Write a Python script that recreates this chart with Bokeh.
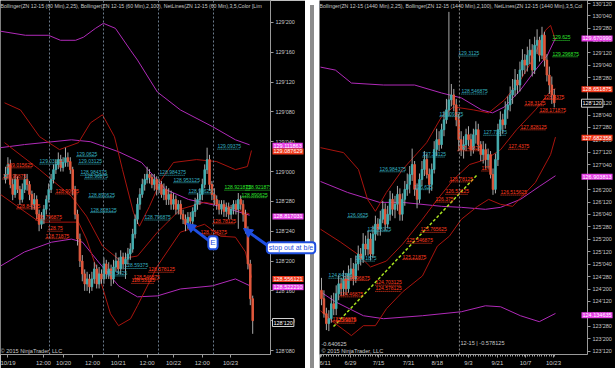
from bokeh.plotting import figure
from bokeh.models import Range1d, FixedTicker, Label, Arrow, NormalHead, Span, Div
from bokeh.layouts import row
from bokeh.embed import file_html
from bokeh.resources import INLINE
from bokeh.core.properties import value

# ---------------- LEFT PANEL (ZN 12-15, 60 min bars) ----------------
L_CLOSE = [128.988,129.029,128.946,128.904,128.967,128.925,128.883,128.925,128.967,
128.946,128.904,128.863,128.883,128.821,128.779,128.800,128.842,128.883,128.925,
128.967,129.008,129.029,129.050,129.017,129.038,129.058,129.042,129.008,
128.925,128.821,128.717,128.625,128.571,128.529,128.550,128.517,
128.550,128.592,128.529,128.571,128.550,128.613,128.571,128.592,128.550,128.600,128.625,128.592,128.642,128.613,128.633,128.654,128.675,
128.738,128.800,128.863,128.904,128.946,128.967,128.988,128.975,
128.946,128.967,128.925,128.946,128.904,128.925,128.883,128.904,128.863,128.883,
128.842,128.863,128.821,128.800,128.779,128.808,128.792,128.833,128.863,128.883,
128.904,128.946,129.008,129.050,128.946,128.904,
128.883,128.863,128.842,128.863,128.833,128.850,128.821,128.842,128.863,128.842,128.883,128.863,
128.821,128.758,128.613,128.467,128.375]
L_OPEN = [128.967,128.988,129.029,128.946,128.904,128.967,128.925,128.883,128.925,
128.967,128.946,128.904,128.863,128.883,128.821,128.779,128.800,128.842,128.883,
128.925,128.967,129.008,129.029,129.050,129.017,129.038,129.058,129.042,
129.008,128.925,128.821,128.717,128.625,128.571,128.529,128.550,
128.517,128.550,128.592,128.529,128.571,128.550,128.613,128.571,128.592,128.550,128.600,128.625,128.592,128.642,128.613,128.633,128.654,
128.675,128.738,128.800,128.863,128.904,128.946,128.967,128.988,
128.975,128.946,128.967,128.925,128.946,128.904,128.925,128.883,128.904,128.863,
128.883,128.842,128.863,128.821,128.800,128.779,128.808,128.792,128.833,128.863,
128.883,128.904,128.946,129.008,129.050,128.946,
128.904,128.883,128.863,128.842,128.863,128.833,128.850,128.821,128.842,128.863,128.842,128.883,
128.863,128.821,128.758,128.613,128.467]
L_HIGH = [129.02,129.06,129.05,128.97,128.99,128.98,128.94,128.95,128.99,
128.99,128.96,128.92,128.91,128.90,128.84,128.83,128.86,128.90,128.95,
128.99,129.03,129.05,129.08,129.07,129.06,129.10,129.08,129.06,
129.02,128.94,128.84,128.74,128.65,128.59,128.58,128.57,
128.58,128.62,128.61,128.60,128.59,128.64,128.63,128.62,128.61,128.63,128.66,128.64,128.67,128.66,128.66,128.68,128.70,
128.76,128.82,128.89,128.93,128.97,128.99,129.02,129.01,
128.99,128.99,128.98,128.97,128.96,128.95,128.94,128.93,128.92,128.91,
128.90,128.88,128.88,128.84,128.82,128.83,128.83,128.85,128.89,128.91,
128.93,128.97,129.03,129.10,129.07,128.96,
128.93,128.90,128.88,128.88,128.88,128.87,128.87,128.86,128.88,128.88,128.91,128.90,
128.88,128.84,128.77,128.63,128.48]
L_LOW = [128.95,128.97,128.93,128.88,128.89,128.91,128.86,128.87,128.91,
128.92,128.88,128.84,128.84,128.80,128.75,128.76,128.78,128.82,128.87,
128.91,128.95,128.99,129.01,129.00,129.00,129.02,129.02,128.99,
128.90,128.80,128.69,128.60,128.54,128.50,128.50,128.49,
128.50,128.53,128.51,128.51,128.53,128.53,128.55,128.55,128.52,128.53,128.58,128.57,128.57,128.59,128.55,128.61,128.63,
128.66,128.72,128.78,128.84,128.89,128.92,128.95,128.95,
128.93,128.92,128.90,128.91,128.89,128.88,128.86,128.86,128.84,128.84,
128.82,128.82,128.80,128.78,128.75,128.76,128.77,128.77,128.81,128.84,
128.86,128.88,128.93,128.99,128.92,128.88,
128.86,128.84,128.82,128.82,128.81,128.81,128.80,128.80,128.82,128.82,128.76,128.84,
128.79,128.74,128.59,128.44,128.32]

L_RED_UP_X = [-0.4, 6.25, 14.2, 22.5, 30.4, 35.4, 40.4, 45.4, 48.75, 53.3, 55.8, 60, 65, 70, 79.6, 87.9, 95.8, 100.8, 102.5]
L_RED_UP = [129.288,129.258,129.146,129.092,129.121,129.204,129.238,129.146,129.008,128.829,128.771,128.854,128.967,129.038,129.050,129.042,129.008,129.021,129.088]
L_RED_MID_X = [-0.4, 14.2, 27.5, 33.75, 40.4, 47.1, 55, 63.3, 72.9, 82.9, 92.5, 101.7]
L_RED_MID = [129.121,129.008,128.896,128.813,128.688,128.633,128.646,128.746,128.842,128.871,128.854,128.822]
L_RED_LO_X = [-2.1, 14.2, 30.4, 33.75, 38.75, 43.75, 47.1, 52.1, 55, 63.3, 72.9, 82.9, 89.6, 95.8, 100, 102.5]
L_RED_LO = [128.904,128.788,128.788,128.717,128.571,128.404,128.354,128.383,128.438,128.604,128.746,128.779,128.729,128.725,128.663,128.556]
L_MAG_UP_X = [-2.1, 8.3, 17.9, 22.9, 29.2, 32.5, 37.5, 40.8, 45.8, 52.1, 55, 63.3, 72.9, 86.3, 95.8, 101.7]
L_MAG_UP = [129.588,129.571,129.571,129.550,129.550,129.563,129.600,129.621,129.600,129.508,129.467,129.333,129.258,129.188,129.133,129.112]
L_MAG_MID_X = [-2.1, 7.9, 27.5, 35.4, 47.1, 56.7, 66.7, 76.25, 89.6, 101.7]
L_MAG_MID = [129.100,129.113,129.133,129.125,129.083,129.038,128.925,128.883,128.854,128.817]
L_MAG_LO_X = [-2.1, 7.9, 19.2, 27.5, 32.1, 38.75, 47.1, 55, 63.3, 72.9, 86.25, 95.8, 101.7]
L_MAG_LO = [128.604,128.663,128.704,128.717,128.704,128.621,128.521,128.475,128.479,128.508,128.521,128.550,128.522]

L_LBL_RED_X = [0.4, -1.25, 20.8, 4.6, 12.5, 17.5, 16.7, 59.6, 53.3, 52.5, 86.25, 81.25]
L_LBL_RED = [129.015625, 128.96875, 128.90625, 128.84375, 128.796875, 128.75, 128.71875, 128.578125, 128.546875, 128.53125, 128.78125, 128.734375]
L_LBL_CYAN_X = [29.6, 30.4, 14.2, 31.25, 32.9, 34.6, 35.4, 49.6, 42.1, 64.2, 70, 76.25, 57.9, 88.3]
L_LBL_CYAN = [129.0625, 129.03125, 129.03125, 128.984375, 128.96875, 128.890625, 128.828125, 128.59375, 128.5625, 128.984375, 128.953125, 128.90625, 128.796875, 129.09375]
L_LBL_GREEN_X = [91.25, 100, 98.3]
L_LBL_GREEN = [128.921875, 128.921875, 128.890625]

L_TICKS = [128.25, 128.375, 128.5, 128.625, 128.75, 128.875, 129.0, 129.125, 129.25, 129.375, 129.5, 129.625]
L_TICK_LABELS = ["128'080", "128'120", "128'160", "128'200", "128'240", "128'280",
                 "129'000", "129'040", "129'080", "129'120", "129'160", "129'200"]
L_XTICKS = [0.8, 15.8, 24.2, 36.25, 47, 59, 70, 82, 93.75]
L_XLABELS = ["10/19", "12:00", "10/20", "12:00", "10/21", "12:00", "10/22", "12:00", "10/23"]
L_DAY_LINES = [18.33, 40.83, 63.75, 86.67]
L_TAGS = [129.111863, 129.087629, 128.817031, 128.556121, 128.522210]
L_TAG_KIND = ["mag", "red", "mag", "red", "mag"]
L_LAST = 128.375
L_LAST_TEXT = "128'120"

# ---------------- RIGHT PANEL (ZN 12-15, daily bars) ----------------
R_OPEN = [124.60,124.43,124.13,123.93,124.03,124.33,
124.23,124.53,124.73,124.63,124.83,124.63,
124.93,125.03,124.83,125.13,125.33,125.23,
125.53,125.43,125.63,125.33,125.73,125.93,
125.83,126.03,126.23,125.93,126.13,126.43,
126.23,126.33,126.53,126.13,126.43,126.63,
126.73,126.93,127.13,126.63,126.43,126.83,
127.03,127.23,126.93,126.73,127.03,127.43,
127.63,127.53,127.83,128.03,128.23,128.43,
128.53,128.33,128.03,127.63,127.43,127.53,
127.73,127.63,127.43,127.73,127.83,127.53,
127.33,127.43,127.23,127.33,126.93,126.63,
127.23,127.83,128.03,127.93,128.23,128.33,
128.53,128.63,128.83,128.73,129.03,129.23,
129.13,129.33,129.43,129.03,129.53,129.63,
129.33,129.73,129.23,128.93,128.73,128.53]
R_CLOSE = [124.43,124.13,123.93,124.03,124.33,124.23,
124.53,124.73,124.63,124.83,124.63,124.93,
125.03,124.83,125.13,125.33,125.23,125.53,
125.43,125.63,125.33,125.73,125.93,125.83,
126.03,126.23,125.93,126.13,126.43,126.23,
126.33,126.53,126.13,126.43,126.63,126.73,
126.93,127.13,126.63,126.43,126.83,127.03,
127.23,126.93,126.73,127.03,127.43,127.63,
127.53,127.83,128.03,128.23,128.43,128.53,
128.33,128.03,127.63,127.43,127.53,127.73,
127.63,127.43,127.73,127.83,127.53,127.33,
127.43,127.23,127.33,126.93,126.63,127.23,
127.83,128.03,127.93,128.23,128.33,128.53,
128.63,128.83,128.73,129.03,129.23,129.13,
129.33,129.43,129.03,129.53,129.63,129.33,
129.73,129.23,128.93,128.73,128.53,128.37]
R_HIGH = [124.85,124.60,124.25,124.20,124.50,124.55,
124.70,124.90,124.85,125.00,124.95,125.10,
125.25,125.15,125.30,125.50,125.45,125.75,
125.70,125.80,125.75,125.90,126.10,126.05,
126.20,126.40,126.35,126.30,126.60,126.55,
126.50,126.70,126.65,126.55,126.80,126.95,
127.10,127.45,127.20,126.75,126.95,127.20,
127.40,127.35,127.05,127.15,127.60,127.85,
127.80,127.95,128.20,128.45,130.20,128.75,
128.65,128.45,128.15,127.80,127.70,127.85,
127.90,127.75,127.85,128.00,127.95,127.60,
127.60,127.55,127.45,127.40,127.05,127.35,
127.95,128.20,128.15,128.40,128.50,128.70,
128.85,129.05,128.95,129.20,129.45,129.35,
129.50,129.65,129.55,129.70,129.85,129.70,
129.90,129.80,129.35,129.10,128.90,128.65]
R_LOW = [124.30,124.05,123.80,123.78,123.95,124.10,
124.10,124.40,124.50,124.50,124.50,124.55,
124.80,124.70,124.75,125.00,125.10,125.15,
125.30,125.30,125.20,125.25,125.60,125.70,
125.70,125.95,125.80,125.85,126.00,126.10,
126.05,126.20,126.00,126.00,126.30,126.50,
126.55,126.80,126.50,126.25,126.35,126.70,
126.90,126.85,126.55,126.60,126.95,127.30,
127.40,127.45,127.70,127.95,128.10,128.30,
128.20,127.90,127.40,127.30,127.25,127.40,
127.50,127.30,127.35,127.55,127.40,127.20,
127.15,127.05,127.05,126.85,126.52,126.55,
127.10,127.70,127.75,127.85,128.05,128.20,
128.35,128.50,128.55,128.60,128.90,128.95,
129.00,129.15,128.90,128.95,129.35,129.20,
129.25,129.10,128.80,128.55,128.35,128.28]

R_RED_UP_X = [-0.4, 9, 15.1, 18.8, 22, 26.5, 33.1, 42.9, 49, 53.9, 62, 68.2, 74.7, 81.2, 86.1, 91.4, 93.5, 95.5]
R_RED_UP = [127.469,127.369,127.029,126.429,126.189,126.569,127.029,127.569,128.089,128.289,128.229,128.169,128.429,128.829,129.229,129.829,129.929,129.629]
R_RED_MID_X = [-0.4, 7.8, 14.7, 20, 26.5, 33.1, 41.2, 47.3, 53.9, 60.4, 66.9, 73.1, 79.6, 87.3, 93.9, 95.5]
R_RED_MID = [125.829,125.569,125.329,125.069,125.189,125.529,126.029,126.429,126.829,127.129,127.229,127.429,127.829,128.229,128.629,128.652]
R_RED_LO_X = [-0.4, 5.7, 12.2, 17.1, 22, 26.5, 33.1, 41.2, 47.3, 52.2, 57.1, 63.7, 68.2, 73.1, 78, 87.3, 93.5, 95.5]
R_RED_LO = [124.189,123.929,123.689,123.889,123.889,124.229,124.569,124.889,125.489,125.689,126.029,126.289,126.429,126.329,126.289,126.769,127.329,127.682]
R_MAG_UP_X = [-0.4, 5.7, 12.2, 25.3, 38, 49, 57.1, 65.3, 69.8, 74.7, 81.2, 87.3, 92.2, 95.5]
R_MAG_UP = [129.089,129.029,128.769,128.729,128.729,128.569,128.469,128.229,128.169,128.289,128.629,129.029,129.329,129.671]
R_MAG_MID_X = [-0.4, 10.6, 23.7, 33.1, 49, 57.1, 66.9, 73.1, 81.2, 88.9, 95.5]
R_MAG_MID = [126.789,126.569,126.369,126.369,126.289,126.269,126.229,126.269,126.429,126.689,126.904]
R_MAG_LO_X = [-0.4, 5.7, 17.1, 25.3, 41.2, 57.1, 66.9, 73.1, 81.2, 88.9, 95.5]
R_MAG_LO = [124.569,124.369,124.089,124.029,124.089,124.169,124.289,124.269,124.089,123.969,124.135]

R_LBL_RED_X = [90.6, 82.9, 89, 81.2, 76.3, 55.5, 65.3, 73.1, 52.2, 50.6, 46.5, 40.4, 34.7, 33.1, 22, 22, 9, 7.3, 4.5, 5.7]
R_LBL_RED = [128.4375, 128.3125, 128.171875, 127.828125, 127.4375, 127.40625, 127.0, 126.515625, 126.78125, 126.53125,
             126.375, 125.765625, 125.546875, 125.21875, 124.703125, 124.578125, 124.796875, 124.46875, 123.96875, 123.9375]
R_LBL_CYAN_X = [55.9, 57.1, 48.2, 66.1, 41.2, 23.7, 38, 10.6, 18.8, 13.9, 2.9]
R_LBL_CYAN = [129.3125, 128.546875, 128.09375, 127.71875, 127.28125, 126.984375, 126.625, 126.0625, 125.78125, 125.1875, 124.84375]
R_LBL_GREEN_X = [94.3, 94.3]
R_LBL_GREEN = [129.625, 129.296875]

R_TICKS = [123.375, 123.625, 123.875, 124.125, 124.375, 124.625, 124.875, 125.125, 125.375, 125.625,
           125.875, 126.125, 126.375, 126.625, 126.875, 127.125, 127.375, 127.625, 127.875, 128.125,
           128.375, 128.625, 128.875, 129.125, 129.375, 129.625, 129.875, 130.125, 130.375]
R_TICK_LABELS = ["123'120", "123'200", "123'280", "124'040", "124'120", "124'200", "124'280", "125'040",
                 "125'120", "125'200", "125'280", "126'040", "126'120", "126'200", "126'280", "127'040",
                 "127'120", "127'200", "127'280", "128'040", "128'120", "128'200", "128'280", "129'040",
                 "129'120", "129'200", "129'280", "130'040", "130'120"]
R_XTICKS = [-0.4, 11.8, 23.3, 35.5, 47.3, 60, 71.8, 83.3, 94.7]
R_XLABELS = ["6/11", "6/29", "7/15", "7/31", "8/18", "9/3", "9/21", "10/7", "10/23"]
R_ROLL_LINE = [56.3]
R_TREND_X = [4.9, 63.7]
R_TREND_Y = [123.87, 126.93]
R_TAGS = [129.670990, 128.651875, 127.682358, 126.903813, 124.134635]
R_TAG_KIND = ["mag", "red", "red", "mag", "mag"]
R_LAST = 128.375
R_LAST_TEXT = "128'120"

# ---------------- style / geometry ----------------
BG = "black"
UP = "#45aeb0"
DN = "#e0583c"
WICK = "#a8a8a8"
MAG = "#b02ab8"
RED = "#a8140e"
TXT = "#c8c8c8"
FONT = "Liberation Sans"
TAG_COL = {"mag": "#e640e6", "red": "#f03a1c"}
BLUE = "#1f4fe0"
H = 368
# left: bar 0 near x=5, 2.4 px per bar, frame 0..270, price 129.7167 at top, 240 px per point
LX0, LPX, LY1, LPY = -2.083, 2.4, 129.7167, 240.0
# right: frame 309..577, 2.45 px per bar, price 130.429 at top, 50 px per point
RX0, RPX, RY1, RPY = -0.816, 2.45, 130.429, 50.0
FRAME_H = 356


def make_fig(width, xr, yr, right_border, ticks, tick_labels, xticks, xlabels, minor=None):
    p = figure(width=width, height=H, x_range=Range1d(*xr), y_range=Range1d(*yr),
               output_backend="svg", toolbar_location=None, y_axis_location="right",
               min_border_left=0, min_border_top=0, min_border_bottom=H - FRAME_H,
               min_border_right=right_border)
    p.background_fill_color = BG
    p.border_fill_color = BG
    p.outline_line_color = None
    p.xgrid.visible = False
    p.ygrid.visible = False
    ya = p.yaxis[0]
    ya.ticker = FixedTicker(ticks=ticks)
    ya.major_label_overrides = {t: l for t, l in zip(ticks, tick_labels)}
    ya.major_label_text_font_size = "5.5px"
    xa = p.xaxis[0]
    xa.ticker = FixedTicker(ticks=xticks, minor_ticks=minor or [])
    xa.major_label_overrides = {t: l for t, l in zip(xticks, xlabels)}
    xa.major_label_text_font_size = "6px"
    for ax in (xa, ya):
        ax.axis_line_color = "#9a9a9a"
        ax.major_tick_line_color = "#9a9a9a"
        ax.minor_tick_line_color = "#9a9a9a"
        ax.major_tick_in = 0
        ax.major_tick_out = 3
        ax.minor_tick_in = 0
        ax.minor_tick_out = 2 if minor else 0
        ax.major_label_text_color = TXT
        ax.major_label_text_font = FONT
        ax.major_label_standoff = 2
    return p


def draw_candles(p, o, h, l, c):
    xs = list(range(len(c)))
    p.segment(xs, h, xs, l, color=WICK, line_width=1)
    cols = [UP if cc >= oo else DN for oo, cc in zip(o, c)]
    tops = [max(oo, cc) for oo, cc in zip(o, c)]
    bots = [min(oo, cc) for oo, cc in zip(o, c)]
    p.vbar(x=xs, top=tops, bottom=bots, width=0.62, fill_color=cols, line_color=cols)


def draw_labels(p, xs, ys, color, pxw):
    texts = [("%.6f" % v).rstrip("0").rstrip(".") for v in ys]
    p.text(xs, ys, text=texts, text_color=color, text_font=value(FONT),
           text_font_size="5px", text_baseline="bottom", text_align="left", y_offset=-1)
    x1 = [x + len(t) * 2.5 / pxw for x, t in zip(xs, texts)]
    p.segment(xs, ys, x1, ys, color=color, line_width=1, line_dash="1 1")


def bands(p, xs_list, ys_list, color):
    for xs, ys in zip(xs_list, ys_list):
        p.line(xs, ys, color=color, line_width=1)


# ---------- left figure ----------
pl = make_fig(305, (LX0, LX0 + 270 / LPX), (LY1 - FRAME_H / LPY, LY1), 35,
              L_TICKS, L_TICK_LABELS, L_XTICKS, L_XLABELS)
for d in L_DAY_LINES:
    pl.add_layout(Span(location=d, dimension="height", line_color="#6c7c8c", line_dash="2 2", line_width=1))
bands(pl, [L_MAG_UP_X, L_MAG_MID_X, L_MAG_LO_X], [L_MAG_UP, L_MAG_MID, L_MAG_LO], MAG)
bands(pl, [L_RED_UP_X, L_RED_MID_X, L_RED_LO_X], [L_RED_UP, L_RED_MID, L_RED_LO], RED)
draw_candles(pl, L_OPEN, L_HIGH, L_LOW, L_CLOSE)
draw_labels(pl, L_LBL_RED_X, L_LBL_RED, "#ff3b1f", LPX)
draw_labels(pl, L_LBL_CYAN_X, L_LBL_CYAN, "#35b3c0", LPX)
draw_labels(pl, L_LBL_GREEN_X, L_LBL_GREEN, "#2ee62e", LPX)
pl.add_layout(Label(x=LX0, y=LY1, text="Bollinger(ZN 12-15 (60 Min),2,25), Bollinger(ZN 12-15 (60 Min),2,100), NetLines(ZN 12-15 (60 Min),3,5,Color [Lim",
                    text_color=TXT, text_font=FONT, text_font_size="5.2px", text_baseline="top", y_offset=-2))
pl.add_layout(Label(x=LX0, y=LY1 - FRAME_H / LPY, text="\u00a9 2015 NinjaTrader, LLC", text_color=TXT,
                    text_font=FONT, text_font_size="5.6px", text_baseline="bottom", y_offset=1))

# ---------- right figure ----------
pr = make_fig(306, (RX0, RX0 + 268 / RPX), (RY1 - FRAME_H / RPY, RY1), 38,
              R_TICKS, R_TICK_LABELS, R_XTICKS, R_XLABELS, minor=list(range(0, 96)))
for d in R_ROLL_LINE:
    pr.add_layout(Span(location=d, dimension="height", line_color="#8a8a8a", line_dash="2 2", line_width=1))
bands(pr, [R_MAG_UP_X, R_MAG_MID_X, R_MAG_LO_X], [R_MAG_UP, R_MAG_MID, R_MAG_LO], MAG)
bands(pr, [R_RED_UP_X, R_RED_MID_X, R_RED_LO_X], [R_RED_UP, R_RED_MID, R_RED_LO], RED)
draw_candles(pr, R_OPEN, R_HIGH, R_LOW, R_CLOSE)
pr.line(R_TREND_X, R_TREND_Y, color="#a8e21e", line_width=1.5, line_dash="3 2")
draw_labels(pr, R_LBL_RED_X, R_LBL_RED, "#ff3b1f", RPX)
draw_labels(pr, R_LBL_CYAN_X, R_LBL_CYAN, "#35b3c0", RPX)
draw_labels(pr, R_LBL_GREEN_X, R_LBL_GREEN, "#2ee62e", RPX)
pr.add_layout(Label(x=RX0, y=RY1, text="Bollinger(ZN 12-15 (1440 Min),2,25), Bollinger(ZN 12-15 (1440 Min),2,100), NetLines(ZN 12-15 (1440 Min),3,5,Col",
                    text_color=TXT, text_font=FONT, text_font_size="5.2px", text_baseline="top", y_offset=-2))
RYB = RY1 - FRAME_H / RPY
pr.add_layout(Label(x=RX0, y=RYB, text="\u00a9 2015 NinjaTrader, LLC", text_color=TXT,
                    text_font=FONT, text_font_size="5.6px", text_baseline="bottom", y_offset=1, x_offset=2))
pr.add_layout(Label(x=RX0, y=RYB, text="-0.640625", text_color=TXT,
                    text_font=FONT, text_font_size="5.6px", text_baseline="bottom", y_offset=9, x_offset=2))
pr.add_layout(Label(x=R_ROLL_LINE[0], y=RYB, text="12-15 | -0.578125", text_color=TXT,
                    text_font=FONT, text_font_size="5.6px", text_baseline="bottom", y_offset=9, x_offset=1))

divider = Div(width=4, height=H, styles={"background-color": "#8c8c8c"})
base = row(pl, divider, pr, styles={"position": "absolute", "left": "0px", "top": "0px"})

# ---------- overlay (tags on the price axes and callouts, drawn over both panels) ----------
ov = figure(width=615, height=H, x_range=Range1d(0, 615), y_range=Range1d(H, 0),
            output_backend="svg", toolbar_location=None, x_axis_type=None, y_axis_type=None,
            min_border=0, background_fill_color=None, border_fill_color=None,
            outline_line_color=None,
            styles={"position": "absolute", "left": "0px", "top": "0px", "z-index": "5"})
ov.extra_x_ranges = {"L": Range1d(LX0, LX0 + 615 / LPX),
                     "R": Range1d(RX0 - 309 / RPX, RX0 + (615 - 309) / RPX)}
ov.extra_y_ranges = {"L": Range1d(LY1 - H / LPY, LY1), "R": Range1d(RY1 - H / RPY, RY1)}


def add_tags(xpix, yname, vals, kinds, last, last_text):
    for v, k in zip(vals, kinds):
        ov.add_layout(Label(x=xpix, y=v, y_range_name=yname, text="%.6f" % v, text_color="white",
                            text_font=FONT, text_font_size="5.5px", text_baseline="middle",
                            background_fill_color=TAG_COL[k], padding=1))
    ov.add_layout(Label(x=xpix, y=last, y_range_name=yname, text=last_text, text_color="white",
                        text_font=FONT, text_font_size="5.5px", text_baseline="middle",
                        background_fill_color="black", border_line_color="#d0d0d0",
                        border_line_width=1, padding=1))


add_tags(272, "L", L_TAGS, L_TAG_KIND, L_LAST, L_LAST_TEXT)
add_tags(581, "R", R_TAGS, R_TAG_KIND, R_LAST, R_LAST_TEXT)

ov.add_layout(Arrow(end=NormalHead(size=9, fill_color=BLUE, line_color=BLUE), line_color=BLUE, line_width=3,
                    x_start=84.6, y_start=128.717, x_end=75.4, y_end=128.788,
                    x_range_name="L", y_range_name="L"))
ov.add_layout(Arrow(end=NormalHead(size=9, fill_color=BLUE, line_color=BLUE), line_color=BLUE, line_width=3,
                    x_start=109.2, y_start=128.696, x_end=99.2, y_end=128.767,
                    x_range_name="L", y_range_name="L"))
ov.add_layout(Label(x=84.5, y=128.68, x_range_name="L", y_range_name="L", text="E", text_color=BLUE,
                    text_font=FONT, text_font_size="8px", background_fill_color="white",
                    border_line_color=BLUE, border_line_width=2, padding=2, border_radius=3))
ov.add_layout(Label(x=108.9, y=128.664, x_range_name="L", y_range_name="L", text="stop out at b/e",
                    text_color=BLUE, text_font=FONT, text_font_size="7px", background_fill_color="white",
                    border_line_color=BLUE, border_line_width=2, padding=2, border_radius=3))

open("out.html", "w").write(file_html([base, ov], INLINE))
